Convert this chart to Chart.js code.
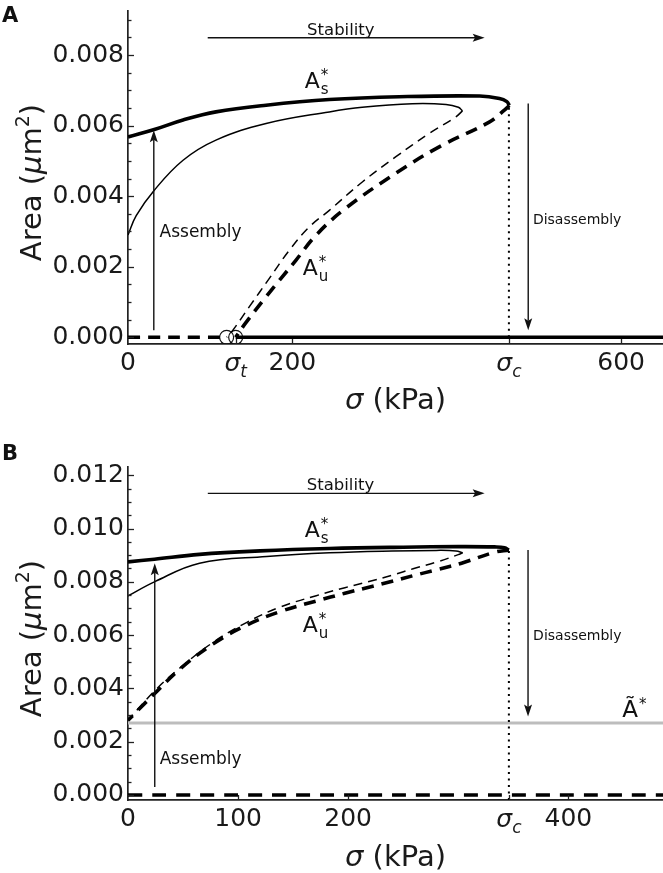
<!DOCTYPE html>
<html>
<head>
<meta charset="utf-8">
<script src="https://cdn.jsdelivr.net/npm/chart.js@4"></script>
<style>
  body { margin: 0; background: #fff; }
  canvas { display: block; }
</style>
</head>
<body>
<canvas id="chartA" width="663" height="436"></canvas>
<canvas id="chartB" width="663" height="437"></canvas>
<script>
// ---- panel A: steady-state area vs stress (kPa, um^2) ----
const sigmaTA = 131;
const sigmaCA = 463.5;
const xTicksA = [0, 200, 600];
const yTicksA = [0, 0.002, 0.004, 0.006, 0.008];

const stableThickA = [[0,0.00568],[32,0.00589],[67,0.00616],[107,0.00639],[168,0.00658],[245,0.00674],[330,0.00682],[428,0.00684],[452,0.00677],[461,0.00668],[464,0.00657]];
const unstableThickA = [[464,0.00657],[458,0.00644],[439.5,0.0061],[378.7,0.0054],[326,0.00465],[265,0.00366],[229,0.0029],[204.5,0.00219],[168,0.00115],[143,0.0004],[131,0]];
const stableThinA = [[0,0.0029],[10,0.00345],[32,0.00417],[67,0.00502],[107,0.00559],[168,0.00606],[245,0.00639],[285,0.00652],[346,0.00662],[387,0.0066],[402,0.00652],[407,0.00642]];
const unstableThinA = [[407,0.00642],[399,0.00625],[366.6,0.00578],[326,0.00512],[285.5,0.00441],[245,0.0036],[220.7,0.00313],[196.4,0.00247],[172,0.00167],[147.7,0.00087],[127,0.00018],[120,0]];
const zeroDashedA = [[0,0],[113,0]];
const zeroSolidA = [[131,0],[651,0]];
const thresholdA = [[120,0],[131,0]];

// ---- panel B ----
const sigmaCB = 346;
const xTicksB = [0, 100, 200, 400];
const yTicksB = [0, 0.002, 0.004, 0.006, 0.008, 0.010, 0.012];

const stableThickB = [[0,0.00875],[24,0.00885],[65,0.00903],[120,0.00916],[183,0.00925],[250,0.0093],[300,0.00932],[333,0.00931],[342,0.00928],[346,0.00919]];
const unstableThickB = [[346,0.00919],[333,0.00911],[303,0.0087],[281,0.00846],[259,0.00823],[240,0.00802],[217,0.00778],[197,0.00757],[171,0.00728],[138,0.00688],[108,0.00638],[77,0.00566],[47,0.00472],[24,0.0038],[0,0.0028]];
const stableThinB = [[0,0.00747],[24,0.008],[65,0.0087],[126,0.00895],[183,0.00909],[240,0.00916],[280,0.00918],[298,0.00916],[304,0.00909]];
const unstableThinB = [[304,0.00909],[300,0.00902],[281,0.00875],[259,0.00849],[240,0.00825],[218,0.008],[197,0.00778],[171,0.00748],[138,0.00705],[108,0.00648],[77,0.00572],[47,0.00476],[24,0.0039],[0,0.0028]];
const zeroDashedB = [[0,0],[486,0]];
const aTildeB = 0.0027;

const yMinorStep = 0.0005;
const FONT = '"DejaVu Sans"';

function pts(arr) {
  return arr.map(p => ({ x: p[0], y: p[1] }));
}

function curve(arr, width, dash) {
  return {
    data: pts(arr),
    showLine: true,
    borderColor: '#000',
    borderWidth: width,
    borderDash: dash || [],
    pointRadius: 0,
    tension: 0.4,
    fill: false
  };
}

function drawArrow(ctx, x1, y1, x2, y2) {
  const ang = Math.atan2(y2 - y1, x2 - x1);
  const c = Math.cos(ang), s = Math.sin(ang);
  const len = 12, half = 4;
  ctx.beginPath();
  ctx.moveTo(x1, y1);
  ctx.lineTo(x2 - c * len * 0.8, y2 - s * len * 0.8);
  ctx.stroke();
  ctx.beginPath();
  ctx.moveTo(x2, y2);
  ctx.lineTo(x2 - c * len + s * half, y2 - s * len - c * half);
  ctx.lineTo(x2 - c * len * 0.8, y2 - s * len * 0.8);
  ctx.lineTo(x2 - c * len - s * half, y2 - s * len + c * half);
  ctx.closePath();
  ctx.fill();
}

function drawStar(ctx, base, sub, size, px, py) {
  ctx.textAlign = 'left';
  ctx.textBaseline = 'alphabetic';
  ctx.font = size + 'px ' + FONT;
  ctx.fillText(base, px, py);
  const w = ctx.measureText(base).width;
  ctx.font = '15px ' + FONT;
  if (sub) ctx.fillText(sub, px + w + 1, py + 6);
  ctx.fillText('*', px + w + 1, py - 8);
}

function drawSigma(ctx, sub, cx, baseY) {
  ctx.textAlign = 'left';
  ctx.textBaseline = 'alphabetic';
  ctx.font = 'italic 25px ' + FONT;
  const w1 = ctx.measureText('σ').width;
  ctx.font = 'italic 17px ' + FONT;
  const w2 = ctx.measureText(sub).width;
  const x0 = cx - (w1 + w2) / 2;
  ctx.font = 'italic 25px ' + FONT;
  ctx.fillText('σ', x0, baseY);
  ctx.font = 'italic 17px ' + FONT;
  ctx.fillText(sub, x0 + w1, baseY + 6);
}

function drawParts(ctx, parts, x, y) {
  let total = 0;
  parts.forEach(p => { ctx.font = p[1]; total += ctx.measureText(p[0]).width; });
  let cur = x - total / 2;
  parts.forEach(p => {
    ctx.font = p[1];
    ctx.fillText(p[0], cur, y + p[2]);
    cur += ctx.measureText(p[0]).width;
  });
}

function noPad(s) {
  s.paddingTop = 0;
  s.paddingBottom = 0;
  s.paddingLeft = 0;
  s.paddingRight = 0;
}

const decorPlugin = {
  id: 'decor',
  afterDraw(chart, args, opts) {
    const { ctx, chartArea: area } = chart;
    const xs = chart.scales.x, ys = chart.scales.y;
    const X = v => xs.getPixelForValue(v);
    const Y = v => ys.getPixelForValue(v);
    ctx.save();
    ctx.fillStyle = '#111';
    ctx.strokeStyle = '#222';

    // inward ticks
    ctx.lineWidth = 1.3;
    for (let i = 0; i * yMinorStep <= ys.max; i++) {
      const v = i * yMinorStep;
      const py = Math.round(Y(v)) + 0.5;
      const major = i % 4 === 0;
      ctx.beginPath();
      ctx.moveTo(area.left, py);
      ctx.lineTo(area.left + (major ? 6 : 3.5), py);
      ctx.stroke();
    }
    xs.ticks.forEach(t => {
      const px = Math.round(X(t.value)) + 0.5;
      if (px <= area.left + 2) return;
      ctx.beginPath();
      ctx.moveTo(px, area.bottom);
      ctx.lineTo(px, area.bottom - 5);
      ctx.stroke();
    });

    // sigma tick labels
    ctx.fillStyle = '#1a1a1a';
    opts.sigmaLabels.forEach(s => drawSigma(ctx, s.sub, X(s.value), area.bottom + 26.5));

    // arrows
    ctx.strokeStyle = '#111';
    ctx.fillStyle = '#111';
    ctx.lineWidth = 1.4;
    opts.arrows.forEach(a => drawArrow(ctx, X(a.x0), Y(a.y0), X(a.x1), Y(a.y1)));

    // annotation texts
    opts.texts.forEach(t => {
      ctx.font = t.size + 'px ' + FONT;
      ctx.textAlign = t.align;
      ctx.textBaseline = t.baseline;
      ctx.fillText(t.text, X(t.x), Y(t.y));
    });
    opts.stars.forEach(s => drawStar(ctx, s.base, s.sub, s.size, X(s.x), Y(s.y)));

    // panel letter
    ctx.font = 'bold 21px ' + FONT;
    ctx.textAlign = 'left';
    ctx.textBaseline = 'alphabetic';
    ctx.fillText(opts.letter, 2, opts.letterY);

    // axis titles
    ctx.fillStyle = '#1a1a1a';
    ctx.textAlign = 'left';
    ctx.textBaseline = 'alphabetic';
    drawParts(ctx, [['σ', 'italic 29px ' + FONT, 0], [' (kPa)', '29px ' + FONT, 0]],
      (area.left + area.right) / 2, opts.xTitleY + 9);
    ctx.save();
    ctx.translate(41, (area.top + area.bottom) / 2 + 5);
    ctx.rotate(-Math.PI / 2);
    drawParts(ctx, [
      ['Area (', '29px ' + FONT, 0],
      ['μ', 'italic 29px ' + FONT, 0],
      ['m', '29px ' + FONT, 0],
      ['2', '19px ' + FONT, -12],
      [')', '29px ' + FONT, 0]
    ], 0, 0);
    ctx.restore();
    ctx.restore();
  }
};

function makeChart(id, cfg) {
  return new Chart(document.getElementById(id), {
    type: 'scatter',
    data: { datasets: cfg.datasets },
    options: {
      responsive: false,
      animation: false,
      events: [],
      layout: { autoPadding: false, padding: { left: 0, right: 0, top: cfg.padTop, bottom: 0 } },
      scales: {
        x: {
          type: 'linear',
          min: 0,
          max: cfg.xMax,
          grid: { display: false, drawTicks: false },
          border: { display: true, color: '#222', width: 1.7 },
          afterBuildTicks: s => { s.ticks = cfg.xTickValues.map(v => ({ value: v })); },
          afterFit: s => { s.height = cfg.xAxisHeight; noPad(s); },
          ticks: {
            font: { family: 'DejaVu Sans', size: 25 },
            color: '#1a1a1a',
            padding: 4,
            maxRotation: 0,
            autoSkip: false,
            callback: v => (cfg.xLabels.includes(v) ? String(v) : '')
          }
        },
        y: {
          min: cfg.yMin,
          max: cfg.yMax,
          grid: { display: false, drawTicks: false },
          border: { display: true, color: '#222', width: 1.7 },
          afterBuildTicks: s => { s.ticks = cfg.yLabels.map(v => ({ value: v })); },
          afterFit: s => { s.width = 128; noPad(s); },
          ticks: {
            font: { family: 'DejaVu Sans', size: 25 },
            color: '#1a1a1a',
            padding: 4,
            autoSkip: false,
            callback: v => v.toFixed(3)
          }
        }
      },
      plugins: {
        legend: { display: false },
        tooltip: { enabled: false },
        decor: cfg.decor
      }
    },
    plugins: [decorPlugin]
  });
}

makeChart('chartA', {
  padTop: 11,
  xAxisHeight: 92,
  xMax: 651,
  yMin: -0.00019,
  yMax: 0.00925,
  xTickValues: [0, sigmaTA, 200, sigmaCA, 600],
  xLabels: xTicksA,
  yLabels: yTicksA,
  datasets: [
    curve(stableThickA, 3.6),
    curve(unstableThickA, 3.6, [12, 8]),
    curve(stableThinA, 1.5),
    curve(unstableThinA, 1.5, [9, 6]),
    curve(zeroDashedA, 3.6, [12, 8]),
    curve(zeroSolidA, 3.6),
    Object.assign(curve([[sigmaCA, 0], [sigmaCA, 0.00655]], 2, [2, 4.5]), { tension: 0 }),
    {
      data: pts(thresholdA),
      showLine: false,
      pointRadius: 7,
      pointBorderWidth: 1.2,
      pointBorderColor: '#111',
      pointBackgroundColor: 'rgba(0,0,0,0)'
    }
  ],
  decor: {
    letter: 'A',
    letterY: 22,
    xTitleY: 400,
    sigmaLabels: [{ value: sigmaTA, sub: 't' }, { value: sigmaCA, sub: 'c' }],
    arrows: [
      { x0: 97, y0: 0.00849, x1: 434, y1: 0.00849 },
      { x0: 31.4, y0: 0.0002, x1: 31.4, y1: 0.00587 },
      { x0: 487, y0: 0.00663, x1: 487, y1: 0.0002 }
    ],
    texts: [
      { text: 'Stability', size: 16.5, x: 259, y: 0.00856, align: 'center', baseline: 'alphabetic' },
      { text: 'Assembly', size: 17, x: 38.4, y: 0.00298, align: 'left', baseline: 'middle' },
      { text: 'Disassembly', size: 14, x: 492.7, y: 0.00332, align: 'left', baseline: 'middle' }
    ],
    stars: [
      { base: 'A', sub: 's', size: 22, x: 215, y: 0.00706 },
      { base: 'A', sub: 'u', size: 22, x: 212.5, y: 0.00177 }
    ]
  }
});

makeChart('chartB', {
  padTop: 31,
  xAxisHeight: 73,
  xMax: 486,
  yMin: -0.00019,
  yMax: 0.01231,
  xTickValues: [0, 100, 200, sigmaCB, 400],
  xLabels: xTicksB,
  yLabels: yTicksB,
  datasets: [
    curve(stableThickB, 3.6),
    curve(unstableThickB, 3.6, [12, 8]),
    curve(stableThinB, 1.5),
    curve(unstableThinB, 1.5, [9, 6]),
    curve(zeroDashedB, 3.6, [14, 10]),
    Object.assign(curve([[sigmaCB, -0.00019], [sigmaCB, 0.00919]], 2, [2, 4.5]), { tension: 0 }),
    Object.assign(curve([[0, aTildeB], [486, aTildeB]], 3), { borderColor: '#bdbdbd', tension: 0 })
  ],
  decor: {
    letter: 'B',
    letterY: 24,
    xTitleY: 421,
    sigmaLabels: [{ value: sigmaCB, sub: 'c' }],
    arrows: [
      { x0: 72.5, y0: 0.01132, x1: 324, y1: 0.01132 },
      { x0: 24.3, y0: 0.0003, x1: 24.3, y1: 0.0087 },
      { x0: 363.4, y0: 0.00919, x1: 363.4, y1: 0.00294 }
    ],
    texts: [
      { text: 'Stability', size: 16.5, x: 193, y: 0.01144, align: 'center', baseline: 'alphabetic' },
      { text: 'Assembly', size: 17, x: 28.8, y: 0.00131, align: 'left', baseline: 'middle' },
      { text: 'Disassembly', size: 14, x: 368, y: 0.00594, align: 'left', baseline: 'middle' }
    ],
    stars: [
      { base: 'A', sub: 's', size: 22, x: 160.6, y: 0.00969 },
      { base: 'A', sub: 'u', size: 22, x: 158.8, y: 0.00612 },
      { base: 'Ã', sub: null, size: 23, x: 449, y: 0.00293 }
    ]
  }
});
</script>
</body>
</html>
